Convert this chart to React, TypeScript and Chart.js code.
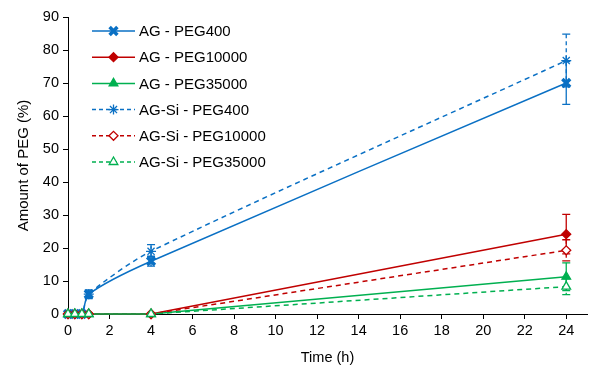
import React, { useEffect, useRef } from 'react';
import { Chart, registerables } from 'chart.js';
import { drawPoint } from 'chart.js/helpers';
Chart.register(...registerables);

const times = [0, 0.33, 0.67, 1, 4, 24];
const xTicks = [0, 2, 4, 6, 8, 10, 12, 14, 16, 18, 20, 22, 24];

const seriesNames = [
  'AG - PEG400',
  'AG - PEG10000',
  'AG - PEG35000',
  'AG-Si - PEG400',
  'AG-Si - PEG10000',
  'AG-Si - PEG35000',
];

const agPeg400 = [0, 0, 0, 6, 16, 70];
const agPeg400Err = [0, 0, 0, 1.3, 1.5, 6.5];
const agPeg10000 = [0, 0, 0, 0, 0, 24.2];
const agPeg10000Err = [0, 0, 0, 0, 0.3, 6];
const agPeg35000 = [0, 0, 0, 0, 0, 11.3];
const agPeg35000Err = [0, 0, 0, 0, 0.3, 4.2];
const agSiPeg400 = [0, 0, 0, 6, 19, 76.8];
const agSiPeg400Err = [0, 0, 0, 1, 2, 8];
const agSiPeg10000 = [0, 0, 0, 0, 0, 19.3];
const agSiPeg10000Err = [0, 0, 0, 0, 0.3, 3.2];
const agSiPeg35000 = [0, 0, 0, 0, 0, 8.3];
const agSiPeg35000Err = [0, 0, 0, 0, 0.3, 2.4];

const BLUE = '#0a70c4';
const RED = '#c00000';
const GREEN = '#00b050';
const FONT = "'Liberation Sans', Arial, sans-serif";

const values = [agPeg400, agPeg10000, agPeg35000, agSiPeg400, agSiPeg10000, agSiPeg35000];
const errors = [agPeg400Err, agPeg10000Err, agPeg35000Err, agSiPeg400Err, agSiPeg10000Err, agSiPeg35000Err];
const colors = [BLUE, RED, GREEN, BLUE, RED, GREEN];
const styles = ['crossRot', 'rectRot', 'triangle', 'star', 'rectRot', 'triangle'];
const dashed = [false, false, false, true, true, true];

const errorBarPlugin = {
  id: 'errorBars',
  beforeDatasetsDraw(chart: any) {
    const { ctx } = chart;
    const xs = chart.scales.x;
    const ys = chart.scales.y;
    chart.data.datasets.forEach((ds: any, i: number) => {
      const errs = errors[i];
      ctx.save();
      ctx.strokeStyle = ds.borderColor;
      ctx.lineWidth = 1.3;
      ctx.setLineDash(dashed[i] ? [4, 3] : []);
      ds.data.forEach((pt: any, j: number) => {
        const e = errs[j];
        if (!e) return;
        const px = xs.getPixelForValue(pt.x);
        const top = ys.getPixelForValue(pt.y + e);
        const bot = ys.getPixelForValue(Math.max(0, pt.y - e));
        ctx.beginPath();
        ctx.moveTo(px, top);
        ctx.lineTo(px, bot);
        ctx.stroke();
        ctx.setLineDash([]);
        ctx.beginPath();
        ctx.moveTo(px - 4, top);
        ctx.lineTo(px + 4, top);
        ctx.moveTo(px - 4, bot);
        ctx.lineTo(px + 4, bot);
        ctx.stroke();
        ctx.setLineDash(dashed[i] ? [4, 3] : []);
      });
      ctx.restore();
    });
  },
};

const legendPlugin = {
  id: 'customLegend',
  afterDraw(chart: any) {
    const { ctx, chartArea } = chart;
    const x0 = chartArea.left + 24;
    const y0 = chartArea.top + 14;
    chart.data.datasets.forEach((ds: any, i: number) => {
      const y = y0 + i * 26.2;
      ctx.save();
      ctx.strokeStyle = ds.borderColor;
      ctx.lineWidth = 1.5;
      ctx.setLineDash(dashed[i] ? [4, 3] : []);
      ctx.beginPath();
      ctx.moveTo(x0, y);
      ctx.lineTo(x0 + 43, y);
      ctx.stroke();
      ctx.setLineDash([]);
      ctx.fillStyle = ds.pointBackgroundColor;
      ctx.strokeStyle = ds.borderColor;
      ctx.lineWidth = ds.pointBorderWidth;
      drawPoint(ctx, { pointStyle: ds.pointStyle, radius: ds.pointRadius, borderWidth: ds.pointBorderWidth, rotation: 0 }, x0 + 21.5, y);
      ctx.fillStyle = '#000';
      ctx.font = `15px ${FONT}`;
      ctx.textBaseline = 'middle';
      ctx.textAlign = 'left';
      ctx.fillText(seriesNames[i], x0 + 47, y + 1);
      ctx.restore();
    });
  },
};

export default function App() {
  const ref = useRef<HTMLCanvasElement>(null);
  useEffect(() => {
    document.body.style.margin = '0';
    const datasets = values.map((vals, i) => {
      const filled = !dashed[i] || styles[i] === 'star';
      return {
        label: seriesNames[i],
        data: times.map((t, j) => ({ x: t, y: vals[j] })),
        borderColor: colors[i],
        backgroundColor: colors[i],
        pointBackgroundColor: filled ? colors[i] : '#ffffff',
        pointBorderColor: colors[i],
        pointStyle: styles[i],
        pointRadius: styles[i] === 'rectRot' ? 4.5 : styles[i] === 'crossRot' ? 5.5 : 5,
        pointBorderWidth: styles[i] === 'crossRot' ? 3.5 : 1.3,
        borderWidth: 1.5,
        borderDash: dashed[i] ? [5, 4] : [],
        tension: i === 0 || i === 3 ? 0.25 : 0,
        clip: false,
        order: 6 - i,
      };
    });
    const chart = new Chart(ref.current!, {
      type: 'line',
      data: { datasets },
      options: {
        animation: false,
        responsive: false,
        layout: { padding: { top: 17, right: 11, left: 15, bottom: 0 } },
        plugins: { legend: { display: false }, tooltip: { enabled: false } },
        scales: {
          x: {
            type: 'linear',
            min: 0,
            max: 25,
            afterBuildTicks(scale: any) {
              scale.ticks = xTicks.map((v) => ({ value: v }));
            },
            afterFit(scale: any) {
              scale.height = 57;
            },
            grid: { drawOnChartArea: false, drawTicks: true, tickLength: 5, color: '#000', lineWidth: 1 },
            border: { color: '#000', width: 1 },
            ticks: { color: '#000', font: { family: FONT, size: 14.5 }, padding: 3, maxRotation: 0 },
            title: { display: true, text: 'Time (h)', color: '#000', font: { family: FONT, size: 14.5 }, padding: { top: 4 } },
          },
          y: {
            min: 0,
            max: 90,
            ticks: { stepSize: 10, color: '#000', font: { family: FONT, size: 14.5 }, padding: 4 },
            afterFit(scale: any) {
              scale.width = 53;
            },
            grid: { drawOnChartArea: false, drawTicks: true, tickLength: 5, color: '#000', lineWidth: 1 },
            border: { color: '#000', width: 1 },
            title: { display: true, text: 'Amount of PEG (%)', color: '#000', font: { family: FONT, size: 15 }, padding: 0 },
          },
        },
      },
      plugins: [errorBarPlugin, legendPlugin],
    });
    return () => chart.destroy();
  }, []);
  return (
    <div style={{ width: 598, height: 371 }}>
      <canvas ref={ref} width={598} height={371} />
    </div>
  );
}
